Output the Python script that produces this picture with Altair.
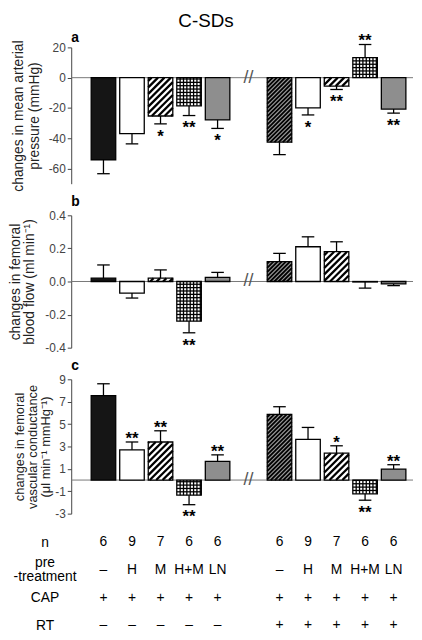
import json
import math
import altair as alt
import pandas as pd

# ---------------- data ----------------
pretreat = ["–", "H", "M", "H+M", "LN", "–", "H", "M", "H+M", "LN"]
n_vals = ["6", "9", "7", "6", "6", "6", "9", "7", "6", "6"]
cap_row = ["+"] * 10
rt_row = ["–"] * 5 + ["+"] * 5
row_labels = ["n", "pre\n-treatment", "CAP", "RT"]
styles = ["black", "white", "diag", "grid", "gray",
          "dense", "white", "diag", "grid", "gray"]

map_mean = [-54.3, -37.0, -25.3, -18.6, -27.9, -42.6, -20.0, -5.6, 13.2, -20.7]
map_err = [-63.4, -43.7, -30.5, -25.0, -33.5, -50.8, -24.6, -7.8, 21.9, -23.4]
map_sig = ["", "", "*", "**", "*", "", "*", "**", "**", "**"]

fbf_mean = [0.02, -0.07, 0.02, -0.24, 0.025, 0.12, 0.21, 0.18, -0.003, -0.015]
fbf_err = [0.10, -0.10, 0.07, -0.31, 0.055, 0.17, 0.27, 0.24, -0.04, -0.025]
fbf_sig = ["", "", "", "**", "", "", "", "", "", ""]

fvc_mean = [7.55, 2.7, 3.4, -1.35, 1.67, 5.87, 3.63, 2.4, -1.23, 0.98]
fvc_err = [8.6, 3.4, 4.4, -2.2, 2.25, 6.55, 4.7, 3.06, -1.8, 1.37]
fvc_sig = ["", "**", "**", "**", "**", "", "", "*", "**", "**"]

# ---------------- layout / style ----------------
FONT = "Liberation Sans"
W = 346
XDOM = [-1.13, 10.85]
GROUP_SHIFT = 6.17
positions = [i if i < 5 else i - 5 + GROUP_SHIFT for i in range(10)]
BREAK_X = (4 + GROUP_SHIFT) / 2
BAR_HALF = 0.43
CAP_HALF = 0.22
SPACING = 32

FILL = {"black": "#151515", "white": "#ffffff", "diag": "#ffffff",
        "grid": "#ffffff", "gray": "#8e8e8e", "dense": "#9a9a9a"}
HATCH_SPACING = {"diag": 6.5, "dense": 4.2, "grid": 3.4}
HATCH_WIDTH = {"diag": 2.3, "dense": 1.3, "grid": 0.9}
MINUS = "\u2212"


def hatch(x0, x1, y0, y1, kind, sx, sy, xmin, ymin):
    if kind not in HATCH_SPACING:
        return []
    X0, X1 = (x0 - xmin) * sx, (x1 - xmin) * sx
    Ya, Yb = sorted(((y0 - ymin) * sy, (y1 - ymin) * sy))
    s = HATCH_SPACING[kind]
    out = []
    if kind in ("diag", "dense"):
        k = math.ceil((Ya - X1) / s)
        while k * s <= Yb - X0:
            c = k * s
            lo = max(X0, Ya - c)
            hi = min(X1, Yb - c)
            if hi - lo > 0.2:
                out.append((lo, lo + c, hi, hi + c))
            k += 1
    else:
        j = 1
        while Ya + j * s < Yb - 0.3:
            out.append((X0, Ya + j * s, X1, Ya + j * s))
            j += 1
        j = 1
        while X0 + j * s < X1 - 0.3:
            out.append((X0 + j * s, Ya, X0 + j * s, Yb))
            j += 1
    return [(a / sx + xmin, b / sy + ymin, c / sx + xmin, d / sy + ymin, kind)
            for a, b, c, d in out]


def panel(mean, err, sig, ydom, yvals, fmt, title_lines, letter, height,
          tsize, tlh, tpad, letter_offset):
    sx = W / (XDOM[1] - XDOM[0])
    sy = height / (ydom[1] - ydom[0])
    df = pd.DataFrame({"pos": positions, "mean": mean, "err": err,
                       "sig": sig, "style": styles})
    df["x0"] = df["pos"] - BAR_HALF
    df["x1"] = df["pos"] + BAR_HALF
    df["c0"] = df["pos"] - CAP_HALF
    df["c1"] = df["pos"] + CAP_HALF
    df["zero"] = 0.0
    segs = []
    for _, r in df.iterrows():
        segs += hatch(r["x0"], r["x1"], 0.0, r["mean"], r["style"],
                      sx, sy, XDOM[0], ydom[0])
    hdf = pd.DataFrame(segs, columns=["hx", "hy", "hx2", "hy2", "kind"])

    xs = alt.Scale(domain=XDOM, nice=False, zero=False)
    ys = alt.Scale(domain=ydom, nice=False, zero=False)
    base = alt.Chart(df)

    yaxis = alt.Axis(values=yvals, format=fmt, title=title_lines,
                     labelExpr=f"replace(datum.label, '{MINUS}', '-')",
                     titleFontSize=tsize, titleLineHeight=tlh, titlePadding=tpad,
                     titleFontWeight="normal", titleColor="#222", titleFont=FONT,
                     labelFontSize=12, labelColor="#444", labelFont=FONT,
                     tickSize=4, tickColor="#444", domainColor="#444",
                     grid=False, labelPadding=2)

    def X(f):
        return alt.X(f, scale=xs, axis=None)

    def Y(f):
        return alt.Y(f, scale=ys, axis=yaxis)

    zero = alt.Chart(pd.DataFrame({"z": [0.0]})).mark_rule(
        color="#777", strokeWidth=1).encode(y=Y("z:Q"))

    bars = base.mark_bar(strokeWidth=0).encode(
        x=X("x0:Q"), x2="x1:Q", y=Y("mean:Q"), y2="zero:Q",
        color=alt.Color("style:N", scale=alt.Scale(domain=list(FILL.keys()),
                                                   range=list(FILL.values())),
                        legend=None))

    hatch_l = alt.Chart(hdf).mark_rule(color="black").encode(
        x=X("hx:Q"), x2="hx2:Q", y=Y("hy:Q"), y2="hy2:Q",
        strokeWidth=alt.StrokeWidth("kind:N", scale=alt.Scale(
            domain=list(HATCH_WIDTH.keys()), range=list(HATCH_WIDTH.values())),
            legend=None))

    outline = base.mark_bar(fillOpacity=0, stroke="black", strokeWidth=1.3).encode(
        x=X("x0:Q"), x2="x1:Q", y=Y("mean:Q"), y2="zero:Q")

    err_l = base.mark_rule(color="black", strokeWidth=1.3).encode(
        x=X("pos:Q"), y=Y("mean:Q"), y2="err:Q")

    cap_l = base.mark_rule(color="black", strokeWidth=1.3).encode(
        x=X("c0:Q"), x2="c1:Q", y=Y("err:Q"))

    star_kw = dict(font=FONT, fontSize=17, fontWeight="bold", color="black",
                   baseline="middle")
    stars_neg = base.transform_filter("datum.sig != '' && datum.err < 0").mark_text(
        dy=13, **star_kw).encode(x=X("pos:Q"), y=Y("err:Q"), text="sig:N")
    stars_pos = base.transform_filter("datum.sig != '' && datum.err > 0").mark_text(
        dy=-3, **star_kw).encode(x=X("pos:Q"), y=Y("err:Q"), text="sig:N")

    brk = alt.Chart(pd.DataFrame({"bx": [BREAK_X], "by": [0.0], "t": ["//"]})).mark_text(
        font=FONT, fontSize=18, color="#555", baseline="middle").encode(
        x=X("bx:Q"), y=Y("by:Q"), text="t:N")

    return alt.layer(zero, bars, hatch_l, outline, err_l, cap_l,
                     stars_neg, stars_pos, brk).properties(
        width=W, height=height,
        title=alt.TitleParams(letter, anchor="start", frame="group", fontSize=14,
                              font=FONT, fontWeight="bold", offset=letter_offset))


pa = panel(map_mean, map_err, map_sig, [-70, 20], [-60, -40, -20, 0, 20], "d",
           ["changes in mean arterial", "pressure (mmHg)"], "a", 138, 14, 16, 7, -12)
pb = panel(fbf_mean, fbf_err, fbf_sig, [-0.4, 0.4], [-0.4, -0.2, 0.0, 0.2, 0.4], ".1f",
           ["changes in femoral", "blood flow (ml min\u207b\u00b9)"], "b", 134, 14, 15, 8, 0)
pc = panel(fvc_mean, fvc_err, fvc_sig, [-3, 9], [-3, -1, 1, 3, 5, 7, 9], "d",
           ["changes in femoral", "vascular conductance",
            "(\u03bcl min\u207b\u00b9 mmHg\u207b\u00b9)"], "c", 136, 13, 13.5, 2, 0)

# ---------------- table ----------------
table_rows = [n_vals, pretreat, cap_row, rt_row]
trows = []
for r, vals in enumerate(table_rows):
    for i, v in enumerate(vals):
        trows.append({"pos": positions[i], "row": r, "txt": v})
tdf = pd.DataFrame(trows)
label_parts = [json.dumps(l.split("\n")) if "\n" in l else json.dumps(l)
               for l in row_labels]
label_expr = "[" + ",".join(label_parts) + "][datum.value]"
multi_rows = " || ".join(f"datum.value == {i}" for i, l in enumerate(row_labels) if "\n" in l)
TSTEP = 28
TDY = -3
LINE_H = 14
table = alt.Chart(tdf).mark_text(font=FONT, fontSize=14, color="black",
                                 baseline="middle", dy=TDY).encode(
    x=alt.X("pos:Q", scale=alt.Scale(domain=XDOM, nice=False, zero=False), axis=None),
    y=alt.Y("row:Q", scale=alt.Scale(domain=[0, 3], reverse=True, nice=False, zero=False),
            axis=alt.Axis(values=[0, 1, 2, 3], labelExpr=label_expr, domain=False,
                          ticks=False, grid=False, labelPadding=27, labelAlign="center",
                          labelBaseline="middle", labelFontSize=14, labelColor="black",
                          labelFont=FONT,
                          labelOffset={"condition": {"test": multi_rows,
                                                     "value": TDY - LINE_H / 2},
                                       "value": TDY},
                          labelOverlap=False, labelLineHeight=LINE_H, title=None)),
    text="txt:N").properties(width=W, height=TSTEP * 3)

chart = alt.vconcat(pa, pb, pc, table, spacing=SPACING, bounds="flush").properties(
    title=alt.TitleParams("C-SDs", fontSize=19, font=FONT, fontWeight="normal",
                          anchor="middle", offset=0, dx=-5),
    padding={"left": 0, "top": 0, "right": 0, "bottom": 0},
).configure(font=FONT).configure_view(stroke=None)

chart.save("out.html", embed_options={"renderer": "svg", "actions": False})
